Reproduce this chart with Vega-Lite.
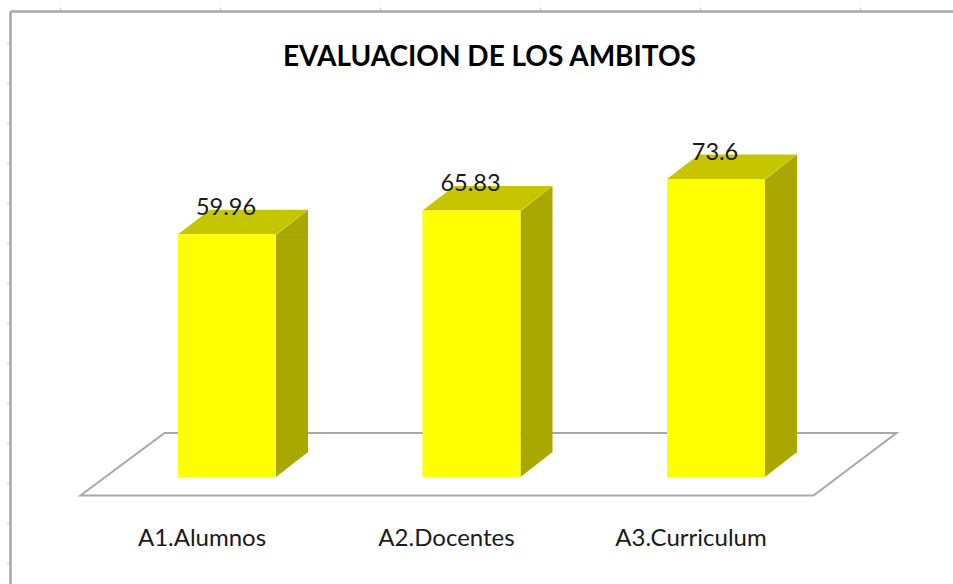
{
"$schema":"https://vega.github.io/schema/vega-lite/v6.json",
"autosize":"none",
"padding":{"left":10,"top":11,"right":0,"bottom":0},
"width":943,"height":573,
"background":"white",
"config":{"view":{"stroke":null}},
"title":{"text":"EVALUACION DE LOS AMBITOS","font":"Lato","fontSize":28,"fontWeight":"bold","color":"#000000","anchor":"middle","frame":"group","dx":8,"dy":69},
"datasets":{
"ambitos":[{"ambito":"A1.Alumnos","valor":59.96},{"ambito":"A2.Docentes","valor":65.83},{"ambito":"A3.Curriculum","valor":73.6}],
"marcas":[{"marca":60},{"marca":220},{"marca":380},{"marca":540},{"marca":700},{"marca":860}]
},
"layer":[
{
"data":{"name":"ambitos"},
"encoding":{
"x":{"field":"ambito","type":"nominal","sort":null,"title":null,
"scale":{"type":"band","domain":["A1.Alumnos","A2.Docentes","A3.Curriculum"],"range":[94.75,828.25],"paddingInner":0,"paddingOuter":0},
"axis":{"orient":"bottom","domain":false,"ticks":false,"labelAngle":0,"labelFont":"Lato","labelFontSize":24,"labelColor":"#1a1a1a","labelOffset":-25,"labelPadding":0,"offset":-58,"labelBaseline":"top","grid":false}},
"y":{"field":"valor","type":"quantitative","title":null,
"scale":{"domain":[-26.42,115.06],"nice":false,"zero":false},
"axis":{"orient":"left","values":[107.16,97.28,87.41,77.53,67.65,57.78,47.9,38.02,28.15,18.27,8.4,-1.48,-11.36,-21.23],"labels":false,"grid":false,"domainColor":"#a6a6a6","domainWidth":2.5,"tickColor":"#c9cdd6","tickSize":4,"tickWidth":1}}
},
"layer":[
{"transform":[{"filter":"datum.ambito==='A2.Docentes'"}],
 "mark":{"type":"point","filled":false,"fill":"white","fillOpacity":1,"opacity":1,"size":4,"stroke":"#a8a8a8","strokeWidth":2,"shape":"M-391,18.5L-307,-44L425,-44L342,18.5Z"},
 "encoding":{"y":{"datum":0}}},
{"mark":{"type":"bar","color":"#a8a800","width":32,"xOffset":65},
 "encoding":{"y2":{"datum":6.05}}},
{"mark":{"type":"point","filled":true,"opacity":1,"color":"#a8a800","size":4,"shape":"M49,0.5L81,-24.5L81,0.5Z"}},
{"mark":{"type":"point","filled":true,"opacity":1,"color":"#a8a800","size":4,"shape":"M49,0L49,-25L81,-25L49,0Z"},
 "encoding":{"y":{"datum":0}}},
{"mark":{"type":"point","filled":true,"opacity":1,"color":"#c6c600","size":4,"shape":"M-49,0L49,0L81,-24.5L-17,-24.5Z"}},
{"mark":{"type":"bar","color":"#ffff00","width":98}},
{"mark":{"type":"text","font":"Lato","fontSize":23.5,"color":"#1a1a1a","baseline":"middle","dy":-26,"dx":-1},
 "encoding":{"text":{"field":"valor","type":"quantitative"}}}
]
},
{
"data":{"name":"marcas"},
"mark":{"type":"rule","opacity":0},
"encoding":{"x":{"field":"marca","type":"quantitative","title":null,
 "scale":{"domain":[10,953],"nice":false,"zero":false},
 "axis":{"orient":"top","values":[60,220,380,540,700,860],"labels":false,"grid":false,"domainColor":"#a6a6a6","domainWidth":2.5,"tickColor":"#c9cdd6","tickSize":4,"tickWidth":1}}}
}
],
"resolve":{"scale":{"x":"independent"},"axis":{"x":"independent"}}
}
